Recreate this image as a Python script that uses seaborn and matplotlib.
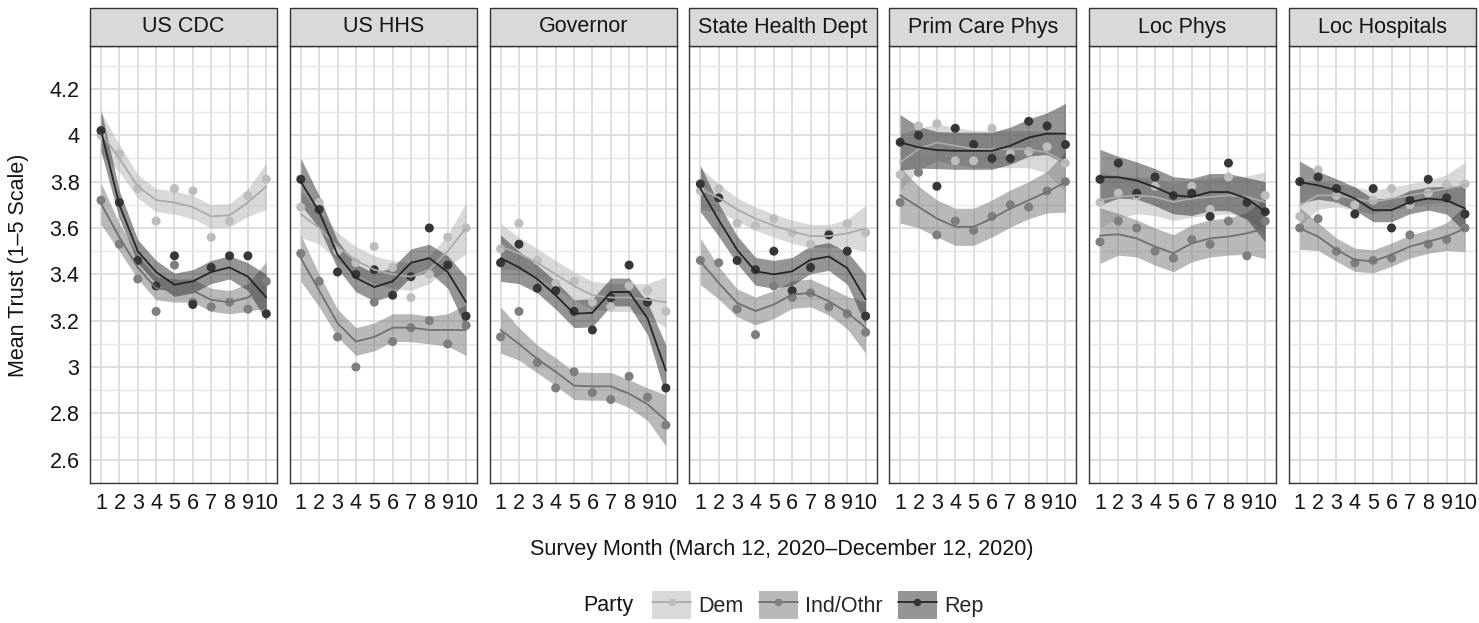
import matplotlib.pyplot as plt
import pandas as pd
import seaborn as sns
from matplotlib.legend_handler import HandlerTuple
from matplotlib.lines import Line2D
from matplotlib.patches import Patch, Rectangle

# Facets, parties and axes
sources = ["US CDC", "US HHS", "Governor", "State Health Dept",
           "Prim Care Phys", "Loc Phys", "Loc Hospitals"]
parties = ["Dem", "Ind/Othr", "Rep"]
months = [1, 2, 3, 4, 5, 6, 7, 8, 9, 10]
month_labels = ["1", "2", "3", "4", "5", "6", "7", "8", "9", "10"]
y_ticks = [2.6, 2.8, 3.0, 3.2, 3.4, 3.6, 3.8, 4.0, 4.2]
y_tick_labels = ["2.6", "2.8", "3", "3.2", "3.4", "3.6", "3.8", "4", "4.2"]

# Monthly means (points)
cdc_pts = {"Dem": [4.00, 3.92, 3.77, 3.63, 3.77, 3.76, 3.56, 3.63, 3.74, 3.81],
           "Ind/Othr": [3.72, 3.53, 3.38, 3.24, 3.44, 3.28, 3.26, 3.28, 3.25, 3.37],
           "Rep": [4.02, 3.71, 3.46, 3.35, 3.48, 3.27, 3.43, 3.48, 3.48, 3.23]}
hhs_pts = {"Dem": [3.69, 3.71, 3.50, 3.45, 3.52, 3.43, 3.30, 3.40, 3.56, 3.60],
           "Ind/Othr": [3.49, 3.37, 3.13, 3.00, 3.28, 3.11, 3.17, 3.20, 3.10, 3.18],
           "Rep": [3.81, 3.68, 3.41, 3.40, 3.42, 3.31, 3.39, 3.60, 3.44, 3.22]}
gov_pts = {"Dem": [3.51, 3.62, 3.46, 3.36, 3.37, 3.28, 3.26, 3.35, 3.33, 3.24],
           "Ind/Othr": [3.13, 3.24, 3.02, 2.91, 2.98, 2.89, 2.86, 2.96, 2.87, 2.75],
           "Rep": [3.45, 3.53, 3.34, 3.33, 3.24, 3.16, 3.30, 3.44, 3.28, 2.91]}
shd_pts = {"Dem": [3.76, 3.77, 3.62, 3.61, 3.64, 3.58, 3.53, 3.58, 3.62, 3.58],
           "Ind/Othr": [3.46, 3.45, 3.25, 3.14, 3.35, 3.30, 3.32, 3.26, 3.23, 3.15],
           "Rep": [3.79, 3.73, 3.46, 3.42, 3.50, 3.33, 3.43, 3.57, 3.50, 3.22]}
pcp_pts = {"Dem": [3.83, 4.04, 4.05, 3.89, 3.89, 4.03, 3.92, 3.93, 3.95, 3.88],
           "Ind/Othr": [3.71, 3.84, 3.57, 3.63, 3.59, 3.65, 3.70, 3.69, 3.76, 3.80],
           "Rep": [3.97, 4.00, 3.78, 4.03, 3.96, 3.90, 3.90, 4.06, 4.04, 3.96]}
lph_pts = {"Dem": [3.71, 3.75, 3.74, 3.78, 3.74, 3.78, 3.68, 3.82, 3.71, 3.74],
           "Ind/Othr": [3.54, 3.63, 3.60, 3.50, 3.47, 3.55, 3.53, 3.63, 3.48, 3.63],
           "Rep": [3.81, 3.88, 3.75, 3.82, 3.74, 3.75, 3.65, 3.88, 3.71, 3.67]}
lho_pts = {"Dem": [3.65, 3.85, 3.74, 3.70, 3.72, 3.77, 3.70, 3.75, 3.79, 3.79],
           "Ind/Othr": [3.60, 3.64, 3.50, 3.45, 3.46, 3.47, 3.57, 3.53, 3.55, 3.60],
           "Rep": [3.80, 3.82, 3.77, 3.66, 3.77, 3.60, 3.72, 3.81, 3.73, 3.66]}

# Smoothed trend per month
cdc_fit = {"Dem": [4.01, 3.90, 3.78, 3.72, 3.71, 3.69, 3.65, 3.655, 3.71, 3.78],
           "Ind/Othr": [3.705, 3.56, 3.43, 3.34, 3.33, 3.33, 3.29, 3.28, 3.30, 3.355],
           "Rep": [4.02, 3.70, 3.50, 3.41, 3.355, 3.37, 3.41, 3.43, 3.39, 3.30]}
hhs_fit = {"Dem": [3.66, 3.60, 3.52, 3.46, 3.42, 3.40, 3.39, 3.42, 3.50, 3.60],
           "Ind/Othr": [3.47, 3.33, 3.19, 3.11, 3.13, 3.17, 3.17, 3.16, 3.16, 3.16],
           "Rep": [3.80, 3.67, 3.485, 3.385, 3.345, 3.37, 3.45, 3.47, 3.41, 3.28]}
gov_fit = {"Dem": [3.52, 3.49, 3.45, 3.40, 3.35, 3.31, 3.30, 3.30, 3.29, 3.28],
           "Ind/Othr": [3.16, 3.10, 3.035, 2.98, 2.92, 2.917, 2.917, 2.885, 2.84, 2.77],
           "Rep": [3.47, 3.43, 3.38, 3.31, 3.23, 3.234, 3.324, 3.324, 3.21, 2.985]}
shd_fit = {"Dem": [3.77, 3.73, 3.68, 3.64, 3.61, 3.584, 3.565, 3.565, 3.577, 3.598],
           "Ind/Othr": [3.456, 3.363, 3.277, 3.242, 3.27, 3.313, 3.32, 3.284, 3.235, 3.17],
           "Rep": [3.77, 3.634, 3.506, 3.413, 3.40, 3.413, 3.463, 3.477, 3.427, 3.292]}
pcp_fit = {"Dem": [3.883, 3.94, 3.969, 3.955, 3.94, 3.94, 3.94, 3.94, 3.926, 3.883],
           "Ind/Othr": [3.741, 3.691, 3.641, 3.605, 3.605, 3.641, 3.684, 3.72, 3.755, 3.798],
           "Rep": [3.969, 3.948, 3.936, 3.933, 3.933, 3.933, 3.955, 3.99, 4.007, 4.007]}
lph_fit = {"Dem": [3.72, 3.734, 3.741, 3.734, 3.712, 3.727, 3.734, 3.741, 3.734, 3.712],
           "Ind/Othr": [3.567, 3.573, 3.555, 3.52, 3.491, 3.534, 3.555, 3.563, 3.577, 3.598],
           "Rep": [3.819, 3.819, 3.805, 3.776, 3.741, 3.734, 3.755, 3.755, 3.727, 3.67]}
lho_fit = {"Dem": [3.698, 3.741, 3.741, 3.727, 3.712, 3.727, 3.741, 3.755, 3.77, 3.784],
           "Ind/Othr": [3.598, 3.563, 3.506, 3.463, 3.456, 3.485, 3.52, 3.541, 3.563, 3.598],
           "Rep": [3.798, 3.784, 3.762, 3.727, 3.677, 3.677, 3.712, 3.727, 3.72, 3.684]}

# Half-widths of the confidence ribbons (estimated)
band_narrow = [0.09, 0.06, 0.05, 0.05, 0.05, 0.05, 0.05, 0.05, 0.06, 0.10]
band_mid = [0.10, 0.07, 0.06, 0.06, 0.06, 0.06, 0.06, 0.06, 0.07, 0.11]
band_wide = [0.12, 0.09, 0.08, 0.08, 0.08, 0.08, 0.08, 0.08, 0.09, 0.13]
cdc_band = {"Dem": band_narrow, "Ind/Othr": band_narrow, "Rep": band_narrow}
hhs_band = {"Dem": band_mid, "Ind/Othr": band_mid, "Rep": band_mid}
gov_band = {"Dem": band_mid, "Ind/Othr": band_mid, "Rep": band_mid}
shd_band = {"Dem": band_narrow, "Ind/Othr": band_mid, "Rep": band_mid}
pcp_band = {"Dem": band_wide, "Ind/Othr": band_wide, "Rep": band_wide}
lph_band = {"Dem": band_wide, "Ind/Othr": band_wide, "Rep": band_wide}
lho_band = {"Dem": band_narrow, "Ind/Othr": band_narrow, "Rep": band_narrow}

pts_by_source = [cdc_pts, hhs_pts, gov_pts, shd_pts, pcp_pts, lph_pts, lho_pts]
fit_by_source = [cdc_fit, hhs_fit, gov_fit, shd_fit, pcp_fit, lph_fit, lho_fit]
band_by_source = [cdc_band, hhs_band, gov_band, shd_band, pcp_band, lph_band, lho_band]

# Long tables for seaborn
rows_pts, rows_fit = [], []
for src, pts, fit, band in zip(sources, pts_by_source, fit_by_source, band_by_source):
    for p in parties:
        for m, v, f, b in zip(months, pts[p], fit[p], band[p]):
            rows_pts.append({"source": src, "party": p, "month": m, "trust": v})
            rows_fit.append({"source": src, "party": p, "month": m, "fit": f,
                             "lo": f - b, "hi": f + b})
df_pts = pd.DataFrame(rows_pts)
df_fit = pd.DataFrame(rows_fit)

sns.set_style("white")
plt.rcParams["font.family"] = ["Liberation Sans", "DejaVu Sans"]
plt.rcParams["font.size"] = 15.5

pt_colors = {"Dem": "#bdbdbd", "Ind/Othr": "#7e7e7e", "Rep": "#363636"}
line_colors = {"Dem": "#ababab", "Ind/Othr": "#707070", "Rep": "#262626"}
fill_colors = {"Dem": "#b4b4b4", "Ind/Othr": "#747474", "Rep": "#2c2c2c"}
ink = "#333333"
text_ink = "#141414"

W, H = 1479, 623
fig, axes = plt.subplots(1, 7, figsize=(W / 100, H / 100), dpi=100, sharey=True)
panel_w = (1476 - 90 - 6 * 12.5) / 7
fig.subplots_adjust(left=90 / W, right=1476 / W, top=1 - 46 / H,
                    bottom=1 - 483 / H, wspace=12.5 / panel_w)
strip_h = 38 / (483 - 46)

for ax, src in zip(axes, sources):
    sp = df_pts[df_pts["source"] == src]
    sf = df_fit[df_fit["source"] == src]
    for p in parties:
        d = sf[sf["party"] == p]
        ax.fill_between(d["month"], d["lo"], d["hi"], color=fill_colors[p],
                        alpha=0.5, lw=0, zorder=1)
    sns.scatterplot(data=sp, x="month", y="trust", hue="party", palette=pt_colors,
                    s=42, edgecolor="none", legend=False, ax=ax, zorder=2)
    sns.lineplot(data=sf, x="month", y="fit", hue="party", palette=line_colors,
                 lw=1.3, legend=False, ax=ax, zorder=3)

    ax.set_xlim(0.4, 10.6)
    ax.set_ylim(2.52, 4.385)
    ax.set_xticks(months)
    ax.set_xticklabels(month_labels)
    ax.set_yticks(y_ticks)
    ax.set_yticklabels(y_tick_labels)
    ax.set_yticks([v + 0.1 for v in [2.4] + y_ticks], minor=True)
    ax.grid(which="major", color="#dcdcdc", lw=1.3)
    ax.grid(which="minor", axis="y", color="#e8e8e8", lw=1.0)
    ax.set_axisbelow(True)
    ax.set_xlabel("")
    ax.set_ylabel("")
    for s in ax.spines.values():
        s.set_color(ink)
        s.set_linewidth(1.0)
    ax.tick_params(which="major", direction="out", length=4.5, width=1.1,
                   color=ink, labelcolor=text_ink, pad=3)
    ax.tick_params(which="minor", length=0)

    ax.add_patch(Rectangle((0, 1), 1, strip_h, transform=ax.transAxes,
                           facecolor="#d9d9d9", edgecolor=ink, lw=1.0,
                           clip_on=False, zorder=5))
    ax.text(0.5, 1 + strip_h / 2, src, transform=ax.transAxes, ha="center",
            va="center", color=text_ink, zorder=6)

for ax in axes[1:]:
    ax.tick_params(axis="y", left=False)

fig.text(19 / W, 1 - 265 / H, "Mean Trust (1\u20135 Scale)", rotation=90,
         ha="center", va="center", color=text_ink)
fig.text(782 / W, 1 - 550 / H, "Survey Month (March 12, 2020\u2013December 12, 2020)",
         ha="center", va="center", color=text_ink)

handles = [(Patch(facecolor=fill_colors[p], alpha=0.5, edgecolor="none"),
            Line2D([], [], color=line_colors[p], lw=1.3, marker="o",
                   markersize=5.5, markerfacecolor=pt_colors[p], markeredgecolor="none"))
           for p in parties]
fig.legend(handles, parties, loc="center", bbox_to_anchor=(818 / W, 1 - 605 / H),
           ncol=3, frameon=False, handlelength=1.8, handleheight=1.6,
           handletextpad=0.35, columnspacing=0.7, borderpad=0,
           handler_map={tuple: HandlerTuple(ndivide=1)})
fig.text(583 / W, 1 - 605 / H, "Party", ha="left", va="center", color=text_ink)

fig.savefig("out.png", dpi=100)
